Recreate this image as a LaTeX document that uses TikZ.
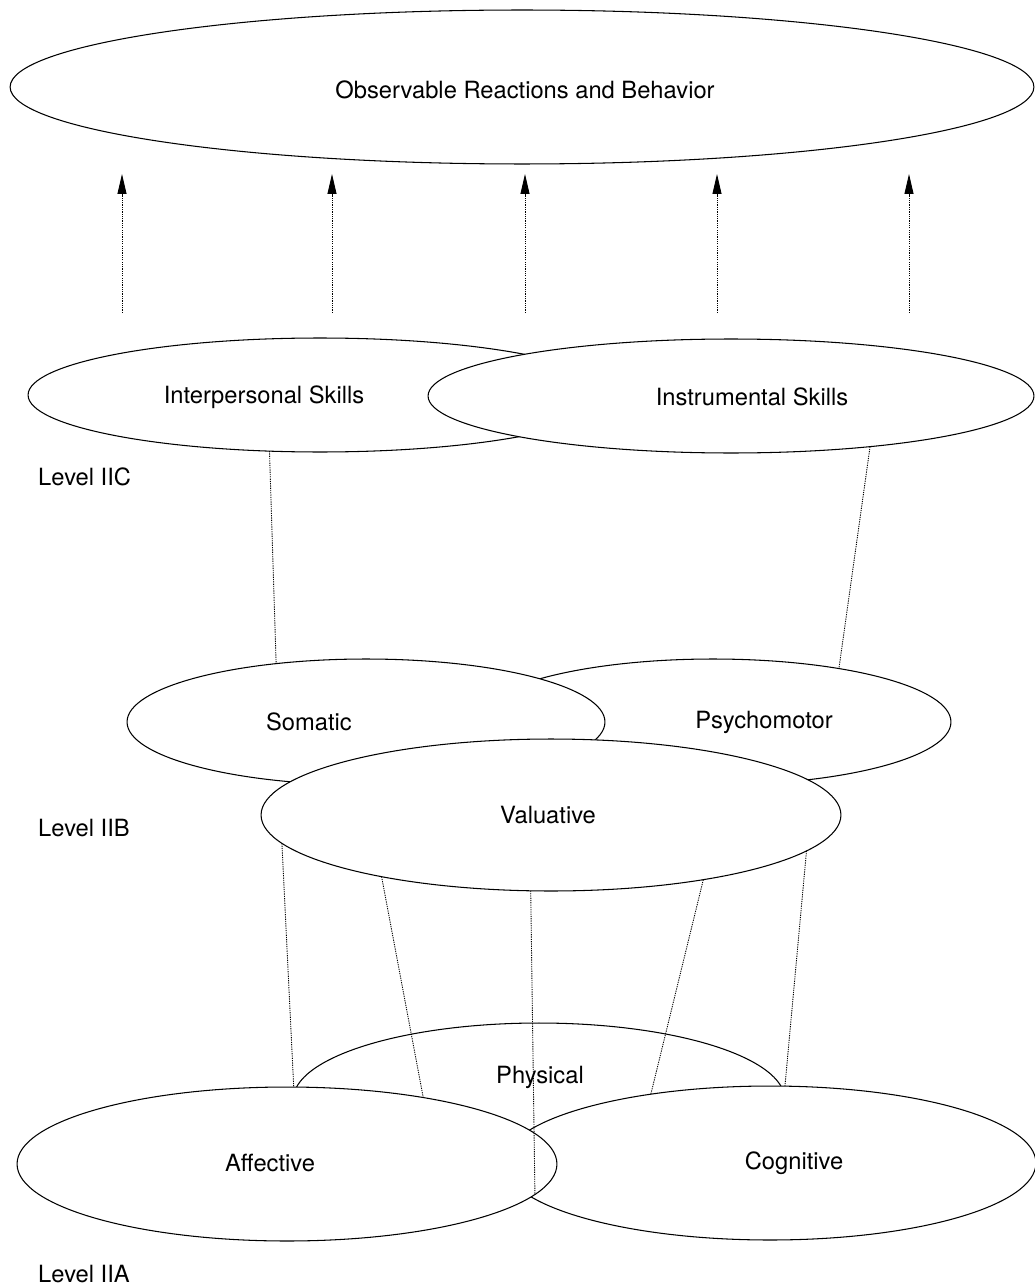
\documentclass[tikz,border=0pt]{standalone}
\usepackage{fontspec}
\setmainfont{TeX Gyre Heros}
\usetikzlibrary{arrows.meta,shapes.geometric}

\begin{document}
\begin{tikzpicture}[x=0.02cm,y=-0.02cm,>={Triangle[length=4mm,width=1.8mm]},
  font=\fontsize{13.5}{16}\selectfont,
  blob/.style={ellipse,draw,fill=white,line width=0.6pt,inner sep=0pt,outer sep=0pt},
  link/.style={dash pattern=on 0.7pt off 0.6pt,line width=0.5pt}]
\useasboundingbox (0,0) rectangle (1034,1287);
% ellipses, back to front
\node[blob,minimum width=20.48cm,minimum height=3.08cm] (obs) at (522,87) {};
\node[blob,minimum width=11.68cm,minimum height=2.28cm] (inter) at (320,395) {};
\node[blob,minimum width=12.12cm,minimum height=2.28cm] (instr) at (731,396) {};
\node[blob,minimum width=9.52cm,minimum height=2.52cm] (psy) at (713,722) {};
\node[blob,minimum width=9.56cm,minimum height=2.52cm] (som) at (366,722) {};
\node[blob,minimum width=11.60cm,minimum height=3.04cm] (val) at (551,815) {};
\node[blob,minimum width=9.84cm,minimum height=3.08cm] (phys) at (539,1100) {};
\node[blob,minimum width=10.64cm,minimum height=3.08cm] (cog) at (770,1163) {};
\node[blob,minimum width=10.80cm,minimum height=3.08cm] (aff) at (287,1164) {};
% texts
\node (obs-t) at (525,90) {Observable Reactions and Behavior};
\node (inter-t) at (264,397) {Interpersonal Skills};
\node (instr-t) at (752,397) {Instrumental Skills};
\node (som-t) at (309,722) {Somatic};
\node (psy-t) at (764,722) {Psychomotor};
\node (val-t) at (548,815) {Valuative};
\node (phys-t) at (540,1077) {Physical};
\node (aff-t) at (270,1163) {Affective};
\node (cog-t) at (794,1163) {Cognitive};
\node[anchor=west] (lvl-c) at (32,477) {Level IIC};
\node[anchor=west] (lvl-b) at (32,828) {Level IIB};
\node[anchor=west] (lvl-a) at (32,1274) {Level IIA};
% arrows up to the top ellipse
\foreach \x [count=\i] in {122,332,525,717,909} {
  \coordinate (up\i) at (\x,313);
  \coordinate (tip\i) at (\x,174);
  \draw[link,->] (up\i) -- (tip\i);
}
% connectors
\draw[link] (inter.228.2) -- (som.147.4);
\draw[link] (instr.-20.7) -- (psy.23.6);
\draw[link] (val.186.4) -- (aff.85.5);
\draw[link] (val.200.2) -- (aff.26.7);
\draw[link] (val.255.2) -- (aff.-7.7);
\draw[link] (val.337.5) -- (cog.150.3);
\draw[link] (val.352.9) -- (cog.79.7);
\end{tikzpicture}
\end{document}
